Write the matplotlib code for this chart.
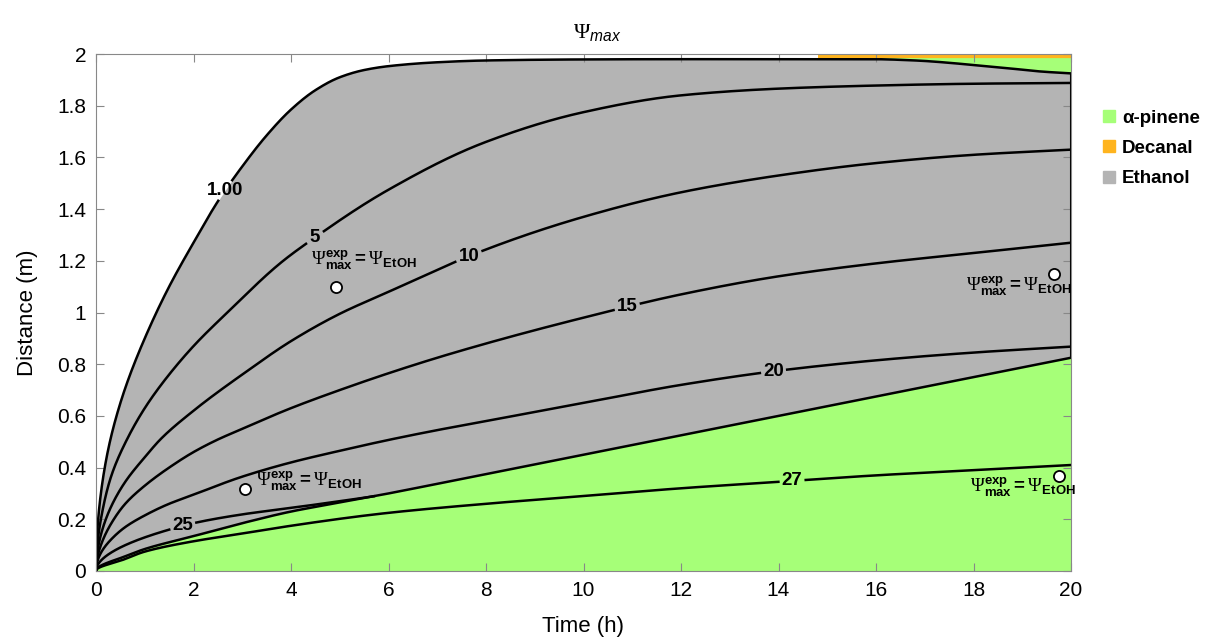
import numpy as np
import matplotlib
matplotlib.use('Agg')
import matplotlib.pyplot as plt
from matplotlib.lines import Line2D
from matplotlib.ticker import FormatStrFormatter

plt.rcParams['font.family'] = ['Liberation Sans', 'DejaVu Sans']
plt.rcParams['mathtext.fontset'] = 'custom'
plt.rcParams['mathtext.rm'] = 'Liberation Serif'
plt.rcParams['mathtext.it'] = 'Liberation Sans:italic'
plt.rcParams['mathtext.bf'] = 'Liberation Sans:bold'

GREEN = '#a6ff78'
GRAY = '#b4b4b4'
ORANGE = '#ffb41e'

# upper edge of the ethanol zone (Psi = 1.00)
top_t = [0, 0.1, 0.25, 0.5, 1, 1.5, 2, 2.5, 3, 3.5, 4, 4.5, 5, 5.5, 6, 7, 8, 10, 12,
         14.8, 15.9, 16.8, 17.5, 18, 18.7, 19.4, 20]
top_d = [0, 0.3, 0.47, 0.65, 0.9, 1.1, 1.27, 1.43, 1.565, 1.685, 1.785, 1.86, 1.91, 1.938, 1.953,
         1.968, 1.975, 1.979, 1.98, 1.98, 1.98, 1.975, 1.966, 1.957, 1.945, 1.932, 1.925]

# ethanol / alpha-pinene boundary
green_t = [0, 0.5, 1, 2, 3, 4, 5, 6, 8, 10, 12, 14, 16, 18, 20]
green_d = [0, 0.05, 0.085, 0.135, 0.185, 0.23, 0.265, 0.30, 0.375, 0.45, 0.525, 0.60, 0.675, 0.75, 0.825]

# decanal strip along the top
decanal_t0 = 14.8
decanal_d0 = 1.986

# iso-lines of Psi_max
c5_t = [0, 0.1, 0.3, 0.63, 1, 1.5, 2, 2.75, 3.84, 4.49, 6, 8, 10, 12, 14, 16, 18, 20]
c5_d = [0, 0.2, 0.36, 0.507, 0.63, 0.76, 0.87, 1.01, 1.2, 1.29, 1.475, 1.66, 1.775, 1.84,
        1.866, 1.878, 1.885, 1.888]
c10_t = [0, 0.1, 0.3, 0.6, 1, 1.31, 2, 3, 4.04, 5, 6, 6.85, 7.65, 10, 12, 14, 16, 18, 20]
c10_d = [0, 0.14, 0.245, 0.345, 0.44, 0.507, 0.62, 0.76, 0.894, 0.995, 1.08, 1.152, 1.218, 1.37,
         1.465, 1.53, 1.578, 1.61, 1.63]
c15_t = [0, 0.1, 0.3, 0.6, 1, 1.5, 2, 2.48, 3, 4, 5, 6, 7, 8, 10, 12, 14, 16, 18, 20]
c15_d = [0, 0.1, 0.18, 0.26, 0.33, 0.4, 0.46, 0.507, 0.55, 0.63, 0.7, 0.765, 0.825, 0.88, 0.98,
         1.07, 1.14, 1.19, 1.23, 1.27]
c20_t = [0, 0.1, 0.3, 0.6, 1, 1.5, 2, 3, 4, 5, 6, 7, 8, 10, 12, 14, 16, 18, 20]
c20_d = [0, 0.07, 0.12, 0.17, 0.215, 0.26, 0.295, 0.365, 0.42, 0.465, 0.507, 0.545, 0.58, 0.65,
         0.72, 0.775, 0.815, 0.845, 0.868]
c25_t = [0, 0.1, 0.3, 0.6, 1, 1.5, 2, 3, 4, 5, 5.7]
c25_d = [0, 0.04, 0.07, 0.1, 0.13, 0.16, 0.185, 0.219, 0.244, 0.27, 0.289]
c27_t = [0, 0.5, 1, 2, 3, 4, 6, 8, 10, 12, 14, 16, 18, 20]
c27_d = [0, 0.04, 0.075, 0.115, 0.145, 0.175, 0.225, 0.26, 0.29, 0.32, 0.345, 0.37, 0.39, 0.41]

contour_text = ['1.00', '5', '10', '15', '20', '25', '27']
contour_label_t = [2.65, 4.49, 7.65, 10.9, 13.9, 1.78, 14.28]

# experimental points where Psi_max equals Psi_EtOH
exp_t = [4.92, 19.65, 3.06, 19.75]
exp_d = [1.099, 1.149, 0.317, 0.367]
note_t = [4.41, 17.85, 3.28, 17.93]
note_d = [1.20, 1.10, 0.348, 0.325]
note_text = r'$\Psi^{\mathbf{exp}}_{\mathbf{max}}\mathbf{=}\Psi_{\mathbf{EtOH}}$'


def pchip(x, y, xn):
    # monotone cubic so the curves stay smooth without overshooting
    x = np.asarray(x, float)
    y = np.asarray(y, float)
    h = np.diff(x)
    delta = np.diff(y) / h
    m = np.zeros_like(y)
    m[0] = delta[0]
    m[-1] = delta[-1]
    for k in range(1, len(x) - 1):
        if delta[k - 1] * delta[k] <= 0:
            m[k] = 0
        else:
            w1 = 2 * h[k] + h[k - 1]
            w2 = h[k] + 2 * h[k - 1]
            m[k] = (w1 + w2) / (w1 / delta[k - 1] + w2 / delta[k])
    i = np.clip(np.searchsorted(x, xn) - 1, 0, len(x) - 2)
    s = (xn - x[i]) / h[i]
    h00 = 2 * s**3 - 3 * s**2 + 1
    h10 = s**3 - 2 * s**2 + s
    h01 = -2 * s**3 + 3 * s**2
    h11 = s**3 - s**2
    return h00 * y[i] + h10 * h[i] * m[i] + h01 * y[i + 1] + h11 * h[i] * m[i + 1]


def curve(t, d, tn):
    # interpolate on sqrt(t): the lines grow like a diffusion front near t = 0
    return pchip(np.sqrt(t), d, np.sqrt(tn))


fig = plt.figure(figsize=(12.28, 6.38), dpi=100)
ax = fig.add_axes([96 / 1228, 67 / 638, 975 / 1228, 517 / 638])
ax.set_xlim(0, 20)
ax.set_ylim(0, 2)

tt = np.linspace(0, 20, 4001)
top = curve(top_t, top_d, tt)
green = curve(green_t, green_d, tt)

ax.fill_between(tt, 0, green, color=GREEN, lw=0)
ax.fill_between(tt, green, top, color=GRAY, lw=0)
m = tt >= decanal_t0
ax.fill_between(tt[m], top[m], 2, color=GREEN, lw=0)
ax.fill_between(tt[m], decanal_d0, 2, color=ORANGE, lw=0)

ax.plot(tt, green, color='k', lw=1.8)
ax.vlines(20, green[-1], top[-1], color='k', lw=1.5)


def draw_contour(t, d, text, tl, lw=1.8):
    x = np.linspace(t[0], t[-1], 3000)
    y = curve(t, d, x)
    yl = curve(t, d, np.array([tl]))[0]
    pts = ax.transData.transform(np.column_stack([x, y]))
    c = ax.transData.transform((tl, yl))
    w = 9.5 * len(text) + 8
    h = 20
    gap = (np.abs(pts[:, 0] - c[0]) < w / 2) & (np.abs(pts[:, 1] - c[1]) < h / 2)
    ax.plot(x, np.where(gap, np.nan, y), color='k', lw=lw)
    ax.text(tl, yl, text, ha='center', va='center', fontsize=13.5, fontweight='bold')


lines = [(top_t, top_d), (c5_t, c5_d), (c10_t, c10_d), (c15_t, c15_d),
         (c20_t, c20_d), (c25_t, c25_d), (c27_t, c27_d)]
for (t, d), text, tl in zip(lines, contour_text, contour_label_t):
    draw_contour(t, d, text, tl)

ax.plot(exp_t, exp_d, 'o', mfc='white', mec='black', ms=8, mew=1.3, zorder=5)
for x, y in zip(note_t, note_d):
    ax.text(x, y, note_text, ha='left', va='center', fontsize=13.5)

ax.set_xticks(np.arange(0, 21, 2))
ax.set_yticks(np.arange(0, 2.01, 0.2))
ax.yaxis.set_major_formatter(FormatStrFormatter('%g'))
ax.tick_params(direction='in', top=True, right=True, length=6, color='#888888',
               labelsize=15, pad=7)
for s in ax.spines.values():
    s.set_color('#888888')
ax.set_xlabel('Time (h)', fontsize=16, labelpad=12)
ax.set_ylabel('Distance (m)', fontsize=16, labelpad=14)
fig.text(597 / 1228, 1 - 33 / 638, r'$\Psi_{max}$', ha='center', va='center', fontsize=16)

handles = [Line2D([], [], marker='s', ls='', color=c, markersize=8, label=l)
           for c, l in [(GREEN, 'α-pinene'), (ORANGE, 'Decanal'), (GRAY, 'Ethanol')]]
fig.legend(handles=handles, loc='upper left', bbox_to_anchor=(1094 / 1228, 1 - 102 / 638),
           frameon=False, prop={'weight': 'bold', 'size': 13.5}, handlelength=0.8,
           handletextpad=0.3, labelspacing=0.7, borderaxespad=0)

fig.savefig('out.png', dpi=100)
